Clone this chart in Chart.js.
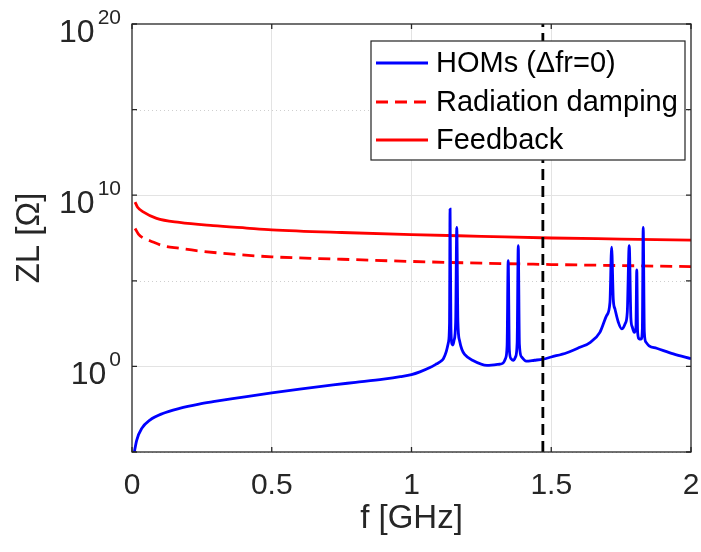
<!DOCTYPE html>
<html>
<head>
<meta charset="utf-8">
<script src="https://cdn.jsdelivr.net/npm/chart.js@4.4.1/dist/chart.umd.min.js"></script>
<style>
  html, body { margin: 0; padding: 0; background: #fff; }
  canvas { display: block; }
</style>
</head>
<body>
<canvas id="grafico" width="701" height="552"></canvas>
<script>
// frequencias em GHz, impedancias guardadas como expoente (log10 de ZL em Ohm)
const homF   = [0.006, 0.017, 0.035, 0.064, 0.11, 0.17, 0.24, 0.29, 0.36, 0.41, 0.5, 0.6, 0.72, 0.8, 0.9, 0.96, 1.0,
                1.03, 1.066, 1.09, 1.105, 1.114,
                1.124, 1.132, 1.136, 1.138, 1.141, 1.145, 1.148, 1.152, 1.158, 1.162, 1.166, 1.172, 1.18, 1.19, 1.22,
                1.27, 1.31, 1.328, 1.336, 1.342, 1.346, 1.35, 1.356, 1.364, 1.372, 1.378, 1.382, 1.386, 1.394, 1.41,
                1.44, 1.47, 1.5, 1.556, 1.6, 1.64, 1.674, 1.698, 1.71, 1.716, 1.722, 1.728, 1.74, 1.752, 1.764, 1.772,
                1.779, 1.785, 1.79, 1.797, 1.803, 1.806, 1.809, 1.815, 1.822, 1.826, 1.829, 1.833, 1.839, 1.85, 1.877,
                1.937, 2.0];
const homExp = [-5.2, -4.3, -3.62, -3.14, -2.75, -2.45, -2.2, -2.06, -1.88, -1.76, -1.55, -1.33, -1.08, -0.93, -0.74, -0.6, -0.48,
                -0.32, -0.07, 0.15, 0.3, 0.45,
                0.85, 1.4, 2.5, 9.19, 2.3, 1.3, 1.25, 1.5, 2.6, 8.12, 2.6, 1.5, 1.0, 0.7, 0.35,
                0.06, 0.12, 0.2, 0.45, 1.2, 6.18, 1.0, 0.45, 0.35, 0.55, 1.4, 7.05, 1.3, 0.55, 0.31,
                0.36, 0.42, 0.55, 0.8, 1.1, 1.41, 1.99, 2.97, 3.74, 6.96, 3.9, 3.35, 2.58, 2.19, 2.48, 3.16,
                7.05, 2.8, 2.3, 1.99, 2.3, 5.64, 2.0, 1.6, 1.6, 2.2, 8.12, 2.0, 1.41, 1.2, 1.06,
                0.73, 0.45];

const radF   = [0.011, 0.023, 0.04, 0.064, 0.11, 0.17, 0.23, 0.35, 0.5, 0.75, 1.0, 1.25, 1.5, 1.75, 2.0];
const radExp = [8.06, 7.73, 7.5, 7.34, 7.05, 6.9, 6.76, 6.57, 6.4, 6.26, 6.13, 6.03, 5.95, 5.89, 5.83];

const fbF   = [0.011, 0.02, 0.04, 0.088, 0.17, 0.29, 0.41, 0.5, 0.75, 1.0, 1.25, 1.5, 1.75, 2.0];
const fbExp = [9.6, 9.3, 9.03, 8.65, 8.41, 8.22, 8.08, 7.98, 7.82, 7.7, 7.6, 7.5, 7.44, 7.38];

const corteF = 1.47;              // linha vertical tracejada
const xTicks = [0, 0.5, 1, 1.5, 2];
const yTickExps = [-5, 0, 5, 10, 15, 20];
const yLabelExps = [0, 10, 20];

const rotulos = ['HOMs (\u0394fr=0)', 'Radiation damping', 'Feedback'];

const FONTE = '"Liberation Sans", Arial, sans-serif';
const CINZA = '#262626';

function pares(fs, es) {
    return fs.map((f, i) => ({ x: f, y: Math.pow(10, es[i]) }));
}

// grade pontilhada, caixa, marcas, rotulos 10^n e legenda no estilo MATLAB
const estiloMatlab = {
    id: 'estiloMatlab',
    beforeDatasetsDraw(chart) {
        const { ctx, chartArea: a, scales: { y } } = chart;
        ctx.save();
        ctx.strokeStyle = '#cfcfcf';
        ctx.lineWidth = 1;
        ctx.setLineDash([1, 3]);
        yTickExps.filter(e => e % 10 !== 0).forEach(e => {
            const py = Math.round(y.getPixelForValue(Math.pow(10, e))) + 0.5;
            ctx.beginPath();
            ctx.moveTo(a.left, py);
            ctx.lineTo(a.right, py);
            ctx.stroke();
        });
        ctx.restore();
    },
    afterDatasetsDraw(chart) {
        const { ctx, chartArea: a, scales: { x, y } } = chart;
        ctx.save();
        ctx.strokeStyle = CINZA;
        ctx.lineWidth = 1.3;
        ctx.strokeRect(a.left, a.top, a.right - a.left, a.bottom - a.top);
        const tl = 5;
        ctx.beginPath();
        xTicks.forEach(v => {
            const px = x.getPixelForValue(v);
            ctx.moveTo(px, a.bottom); ctx.lineTo(px, a.bottom - tl);
            ctx.moveTo(px, a.top); ctx.lineTo(px, a.top + tl);
        });
        yTickExps.forEach(e => {
            const py = y.getPixelForValue(Math.pow(10, e));
            ctx.moveTo(a.left, py); ctx.lineTo(a.left + tl, py);
            ctx.moveTo(a.right, py); ctx.lineTo(a.right - tl, py);
        });
        ctx.stroke();

        // rotulos do eixo y: 10 com expoente
        ctx.fillStyle = CINZA;
        ctx.textAlign = 'right';
        ctx.textBaseline = 'alphabetic';
        const xr = a.left - 11;
        yLabelExps.forEach(e => {
            const py = y.getPixelForValue(Math.pow(10, e));
            ctx.font = '21px ' + FONTE;
            const txtExp = String(e);
            const w = ctx.measureText(txtExp).width;
            ctx.fillText(txtExp, xr, py);
            ctx.font = '32px ' + FONTE;
            ctx.fillText('10', xr - w - 3, py + 18);
        });
        ctx.restore();
    },
    afterDraw(chart) {
        const { ctx } = chart;
        const bx = 371, by = 41, bw = 314, bh = 119;
        ctx.save();
        ctx.fillStyle = '#fff';
        ctx.fillRect(bx, by, bw, bh);
        ctx.strokeStyle = '#222';
        ctx.lineWidth = 1.2;
        ctx.strokeRect(bx, by, bw, bh);
        const linhas = [63, 102, 140];
        ctx.font = '29px ' + FONTE;
        ctx.textBaseline = 'middle';
        ctx.textAlign = 'left';
        chart.data.datasets.slice(0, 3).forEach((ds, i) => {
            ctx.strokeStyle = ds.borderColor;
            ctx.lineWidth = ds.borderWidth;
            ctx.setLineDash(ds.borderDash || []);
            ctx.beginPath();
            ctx.moveTo(376, linhas[i]);
            ctx.lineTo(428, linhas[i]);
            ctx.stroke();
            ctx.setLineDash([]);
            ctx.fillStyle = '#000';
            ctx.fillText(ds.label, 436, linhas[i] + 1);
        });
        ctx.restore();
    }
};

const ctx = document.getElementById('grafico').getContext('2d');
const grafico = new Chart(ctx, {
    type: 'line',
    data: {
        datasets: [
            {
                label: rotulos[0],
                data: pares(homF, homExp),
                borderColor: '#0000ff',
                borderWidth: 2.8,
                pointRadius: 0,
                cubicInterpolationMode: 'monotone'
            },
            {
                label: rotulos[1],
                data: pares(radF, radExp),
                borderColor: '#ff0000',
                borderWidth: 2.8,
                borderDash: [12, 7],
                pointRadius: 0,
                cubicInterpolationMode: 'monotone'
            },
            {
                label: rotulos[2],
                data: pares(fbF, fbExp),
                borderColor: '#ff0000',
                borderWidth: 2.8,
                pointRadius: 0,
                cubicInterpolationMode: 'monotone'
            },
            {
                label: 'corte',
                data: [{ x: corteF, y: Math.pow(10, yTickExps[0]) }, { x: corteF, y: Math.pow(10, yTickExps[yTickExps.length - 1]) }],
                borderColor: '#000',
                borderWidth: 2.8,
                borderDash: [11, 6],
                pointRadius: 0,
                order: -1
            }
        ]
    },
    options: {
        responsive: false,
        animation: false,
        layout: { padding: { top: 24, right: 10, left: 0, bottom: 0 } },
        plugins: {
            legend: { display: false },
            tooltip: { enabled: false }
        },
        scales: {
            x: {
                type: 'linear',
                min: xTicks[0],
                max: xTicks[xTicks.length - 1],
                afterBuildTicks: (s) => { s.ticks = xTicks.map(v => ({ value: v })); },
                afterFit: (s) => { s.height = 100; s.paddingLeft = 0; s.paddingRight = 0; },
                border: { display: false },
                grid: {
                    color: (c) => (c.tick && (c.tick.value === 0 || c.tick.value === 2)) ? 'rgba(0,0,0,0)' : '#e3e3e3',
                    drawTicks: false
                },
                ticks: {
                    color: CINZA,
                    padding: 16,
                    maxRotation: 0,
                    callback: (v) => String(v),
                    font: { family: FONTE, size: 30 }
                },
                title: {
                    display: true,
                    text: 'f [GHz]',
                    color: CINZA,
                    padding: { top: 0, bottom: 13 },
                    font: { family: FONTE, size: 33 }
                }
            },
            y: {
                type: 'logarithmic',
                min: Math.pow(10, yTickExps[0]),
                max: Math.pow(10, yTickExps[yTickExps.length - 1]),
                afterBuildTicks: (s) => { s.ticks = yTickExps.map(e => ({ value: Math.pow(10, e) })); },
                afterFit: (s) => { s.width = 132; s.paddingTop = 0; s.paddingBottom = 0; },
                border: { display: false },
                grid: {
                    color: (c) => {
                        if (!c.tick) return 'rgba(0,0,0,0)';
                        const e = Math.round(Math.log10(c.tick.value));
                        return (e % 10 === 0 && e !== 20) ? '#e3e3e3' : 'rgba(0,0,0,0)';
                    },
                    drawTicks: false
                },
                ticks: { display: false },
                title: {
                    display: true,
                    text: 'ZL [\u03A9]',
                    color: CINZA,
                    padding: { top: 10, bottom: 0 },
                    font: { family: FONTE, size: 33 }
                }
            }
        }
    },
    plugins: [estiloMatlab]
});
</script>
</body>
</html>
